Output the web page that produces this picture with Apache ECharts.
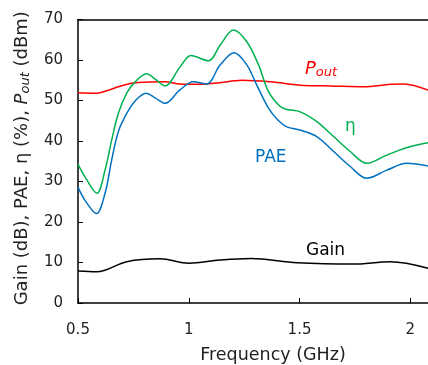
<!DOCTYPE html>
<html>
<head>
<meta charset="utf-8">
<script src="https://cdn.jsdelivr.net/npm/echarts@6/dist/echarts.min.js"></script>
<style>
  html, body { margin: 0; padding: 0; background: #fff; }
  #chart { width: 428px; height: 365px; }
</style>
</head>
<body>
<div id="chart"></div>
<script>
// values
const gainFreq = [0.5, 0.585, 0.72, 0.87, 1.0, 1.14, 1.28, 1.49, 1.74, 1.91, 2.08];
const gainVals = [7.9, 7.7, 10.2, 10.9, 9.8, 10.6, 11.0, 9.95, 9.6, 10.2, 8.6];

const poutFreq = [0.5, 0.585, 0.65, 0.727, 0.8, 0.893, 0.96, 1.036, 1.13, 1.24, 1.37, 1.52, 1.64, 1.79, 1.91, 1.97, 2.08];
const poutVals = [51.9, 51.8, 52.8, 54.1, 54.5, 54.6, 54.1, 54.0, 54.3, 55.0, 54.6, 53.7, 53.6, 53.4, 54.0, 54.1, 52.6];

const paeFreq = [0.5, 0.531, 0.583, 0.622, 0.652, 0.682, 0.72, 0.758, 0.807, 0.85, 0.893, 0.96, 1.021, 1.081, 1.142, 1.205, 1.262, 1.307, 1.36, 1.4, 1.443, 1.503, 1.578, 1.654, 1.729, 1.804, 1.894, 1.985, 2.08];
const paeVals = [28.6, 25.4, 22.1, 27.1, 35.3, 42.3, 46.8, 49.9, 51.8, 50.6, 49.3, 52.6, 54.6, 54.1, 58.8, 61.8, 58.8, 53.8, 48.1, 45.3, 43.5, 42.7, 41.1, 37.4, 33.7, 30.8, 32.8, 34.5, 33.8];

const etaFreq = [0.5, 0.531, 0.585, 0.622, 0.652, 0.682, 0.72, 0.758, 0.81, 0.85, 0.893, 0.961, 1.01, 1.089, 1.142, 1.202, 1.262, 1.315, 1.36, 1.413, 1.443, 1.503, 1.578, 1.654, 1.729, 1.804, 1.894, 1.985, 2.08];
const etaVals = [34.3, 31.2, 27.1, 32.8, 40.2, 46.8, 51.8, 54.6, 56.6, 55.2, 53.6, 58.3, 61.1, 59.8, 63.7, 67.4, 64.5, 58.8, 52.2, 48.5, 47.8, 47.2, 44.8, 41.1, 37.4, 34.5, 36.5, 38.4, 39.6];

const yTicks = [0, 10, 20, 30, 40, 50, 60, 70];

const FONT = "DejaVu Sans";
const pairs = (xs, ys) => xs.map((x, i) => [x, ys[i]]);

const chart = echarts.init(document.getElementById("chart"));

function line(name, xs, ys, color) {
  return {
    name: name,
    type: "line",
    data: pairs(xs, ys),
    smooth: 0.35,
    showSymbol: false,
    lineStyle: { color: color, width: 1.5 },
    clip: true,
    z: 3,
  };
}

const option = {
  animation: false,
  backgroundColor: "#fff",
  textStyle: { fontFamily: FONT },
  grid: { left: 78, top: 19.5, right: 0, bottom: 62, containLabel: false, outerBoundsMode: "none" },
  xAxis: [
    {
      type: "value",
      min: 0.5,
      max: 2.08,
      interval: 0.5,
      name: "Frequency (GHz)",
      nameLocation: "middle",
      nameGap: 43,
      nameTextStyle: { fontSize: 17.5, color: "#222", fontFamily: FONT, padding: [0, 0, 0, 40] },
      axisLine: { lineStyle: { color: "#000", width: 1.5 } },
      axisTick: { inside: true, length: 5, lineStyle: { color: "#000" } },
      axisLabel: { fontSize: 15, color: "#222", margin: 20, showMaxLabel: false, fontFamily: FONT },
      splitLine: { show: false },
    },
    {
      type: "value",
      position: "top",
      min: 0.5,
      max: 2.08,
      axisLine: { lineStyle: { color: "#000", width: 1.5 } },
      axisTick: { show: false },
      axisLabel: { show: false },
      splitLine: { show: false },
    },
  ],
  yAxis: {
    type: "value",
    min: yTicks[0],
    max: yTicks[yTicks.length - 1],
    interval: 10,
    name: "Gain (dB), PAE, η (%), {i|P}{s|out} (dBm)",
    nameLocation: "middle",
    nameRotate: 90,
    nameGap: 46,
    nameTextStyle: {
      fontSize: 18,
      color: "#222",
      fontFamily: FONT,
      padding: [0, 0, 0, 6],
      rich: {
        i: { fontSize: 18, fontStyle: "italic", color: "#222", fontFamily: FONT },
        s: { fontSize: 13, fontStyle: "italic", color: "#222", fontFamily: FONT, verticalAlign: "bottom", padding: [6, 0, 0, 0] },
      },
    },
    axisLine: { show: true, lineStyle: { color: "#000", width: 1.5 } },
    axisTick: { show: true, inside: true, length: 5, lineStyle: { color: "#000" } },
    axisLabel: { fontSize: 15, color: "#222", margin: 15, fontFamily: FONT },
    splitLine: { show: false },
  },
  series: [
    line("Gain", gainFreq, gainVals, "#000000"),
    line("Pout", poutFreq, poutVals, "#ff0000"),
    line("PAE", paeFreq, paeVals, "#0070c0"),
    line("η", etaFreq, etaVals, "#00b050"),
  ],
  graphic: [
    {
      type: "text",
      left: 305,
      top: 60,
      style: {
        text: "{i|P}{s|out}",
        rich: {
          i: { fontSize: 18, fontStyle: "italic", fill: "#ff0000", fontFamily: FONT },
          s: { fontSize: 13, fontStyle: "italic", fill: "#ff0000", fontFamily: FONT, verticalAlign: "bottom", padding: [8, 0, 0, 0] },
        },
      },
    },
    { type: "text", left: 345, top: 118, style: { text: "η", fontSize: 17, fill: "#00b050", fontFamily: FONT } },
    { type: "text", left: 255, top: 149, style: { text: "PAE", fontSize: 17, fill: "#0070c0", fontFamily: FONT } },
    { type: "text", left: 306, top: 242, style: { text: "Gain", fontSize: 17, fill: "#000", fontFamily: FONT } },
  ],
};

chart.setOption(option);
</script>
</body>
</html>
